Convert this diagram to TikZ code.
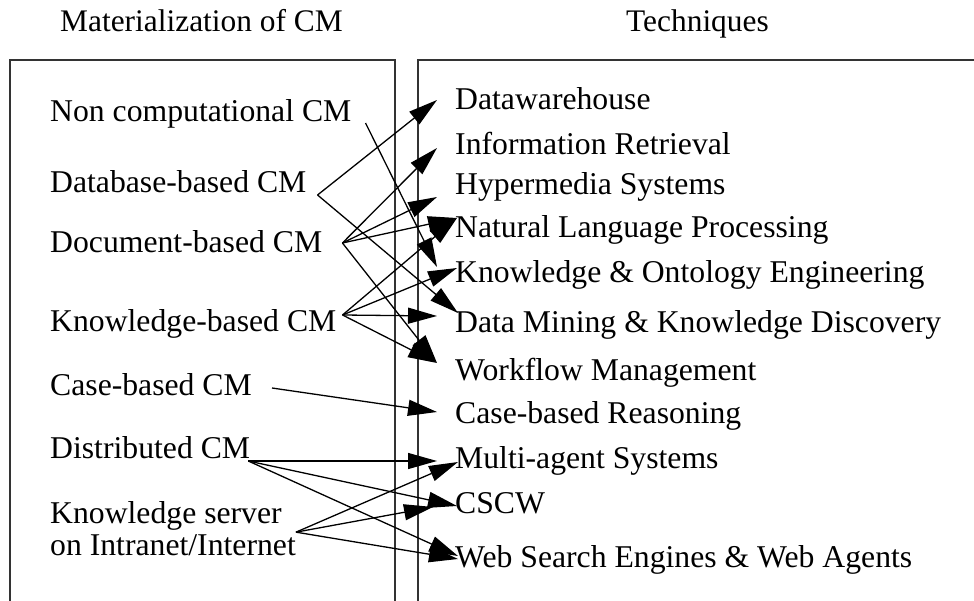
\documentclass[tikz,border=0pt]{standalone}
\usepackage{fontspec}
\setmainfont{Liberation Serif}
\usetikzlibrary{arrows.meta}
\tikzset{
    every node/.style={inner sep=0pt, anchor=base west,
    	font=\fontsize{31.7}{32}\selectfont}
}
\tikzset{
    every edge/.append style={line width=1.3pt,
    	-{Triangle[length=29pt,width=16pt]}}
}
\tikzset{
	frame/.style={line width=1.3pt, draw=black!80}
}

\begin{document}
\begin{tikzpicture}[x=1pt, y=-1pt]
  \useasboundingbox (0,0) rectangle (974,601);
  \node (h0) [font=\fontsize{31.4}{32}\selectfont] at (60, 32) {Materialization of CM};
  \node (h1) [font=\fontsize{31.4}{32}\selectfont] at (626, 32) {Techniques};

  % boxes, open at the bottom
  \draw [frame] (10,601) -- (10,60) -- (395,60) -- (395,601);
  \draw [frame] (418,601) -- (418,60) -- (974,60);

  \node (m0) at (50, 122) {Non computational CM};
  \node (m1) at (50, 193) {Database-based CM};
  \node (m2) at (50, 253) {Document-based CM};
  \node (m3) at (50, 332) {Knowledge-based CM};
  \node (m4) at (50, 395) {Case-based CM};
  \node (m5) at (50, 458) {Distributed CM};
  \node (m6) [align=left] at (50, 555) {Knowledge server\\on Intranet/Internet};

  \node (t0) at (455, 110) {Datawarehouse};
  \node (t1) at (455, 155) {Information Retrieval};
  \node (t2) at (455, 195) {Hypermedia Systems};
  \node (t3) at (455, 238) {Natural Language Processing};
  \node (t4) at (455, 283) {Knowledge \& Ontology Engineering};
  \node (t5) at (455, 333) {Data Mining \& Knowledge Discovery};
  \node (t6) at (455, 380) {Workflow Management};
  \node (t7) at (455, 423) {Case-based Reasoning};
  \node (t8) at (455, 468) {Multi-agent Systems};
  \node (t9) at (455, 513) {CSCW};
  \node (t10) at (455, 567) {Web Search Engines \& Web Agents};

  \draw ([shift={(14,1)}]m0.base east) edge ([shift={(-18,-16)}]t4.base west);
  \draw ([shift={(11,2)}]m1.base east) edge ([shift={(-18,-10)}]t0.base west);
  \draw ([shift={(11,2)}]m1.base east) edge ([shift={(3,-20)}]t5.base west);
  \draw ([shift={(20,-10)}]m2.base east) edge ([shift={(-18,-7)}]t1.base west);
  \draw ([shift={(20,-10)}]m2.base east) edge ([shift={(-18,2)}]t2.base west);
  \draw ([shift={(20,-10)}]m2.base east) edge ([shift={(2,-20)}]t3.base west);
  \draw ([shift={(20,-10)}]m2.base east) edge ([shift={(-18,-17)}]t6.base west);
  \draw ([shift={(6,-17)}]m3.base east) edge ([shift={(2,-20)}]t3.base west);
  \draw ([shift={(6,-17)}]m3.base east) edge ([shift={(2,-15)}]t4.base west);
  \draw ([shift={(6,-17)}]m3.base east) edge ([shift={(-18,-17)}]t5.base west);
  \draw ([shift={(6,-17)}]m3.base east) edge ([shift={(-18,-17)}]t6.base west);
  \draw ([shift={(20,-7)}]m4.base east) edge ([shift={(-18,-11)}]t7.base west);
  \draw ([shift={(-2,3)}]m5.base east) edge ([shift={(-18,-7)}]t8.base west);
  \draw ([shift={(-2,3)}]m5.base east) edge ([shift={(2,-7)}]t9.base west);
  \draw ([shift={(-2,3)}]m5.base east) edge ([shift={(3,-11)}]t10.base west);
  \draw ([shift={(0,4)}]m6.east) edge ([shift={(3,-6)}]t8.base west);
  \draw ([shift={(0,4)}]m6.east) edge ([shift={(-22,-6)}]t9.base west);
  \draw ([shift={(0,4)}]m6.east) edge ([shift={(3,-8)}]t10.base west);
\end{tikzpicture}
\end{document}
